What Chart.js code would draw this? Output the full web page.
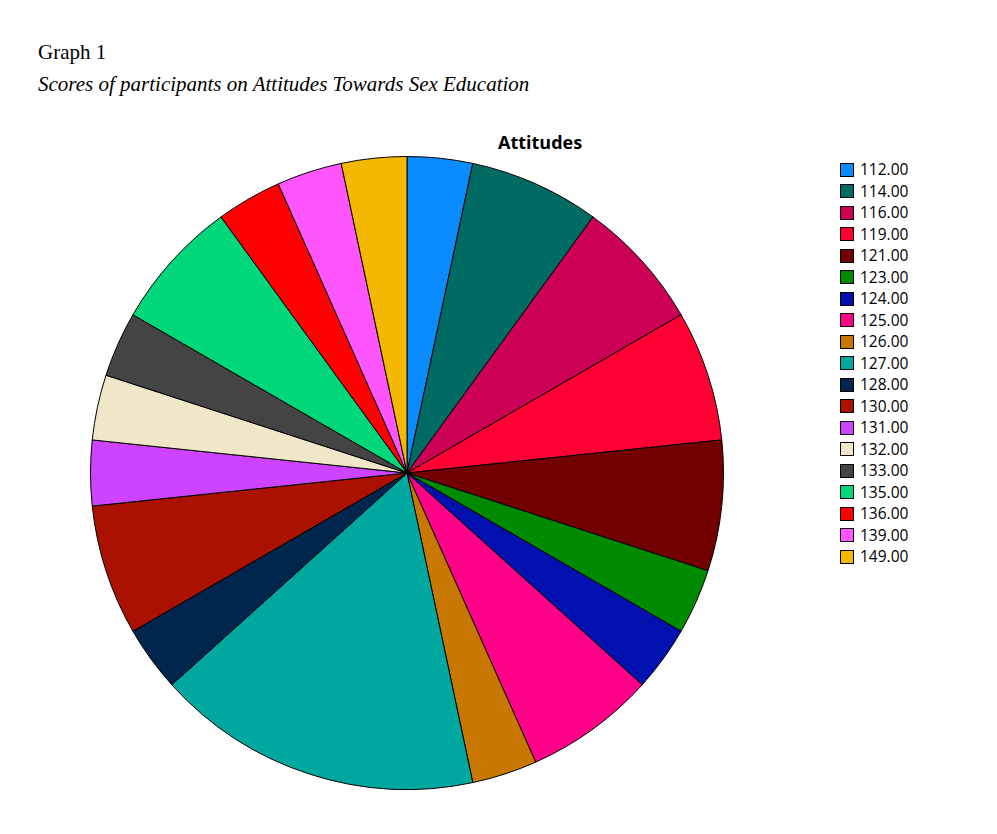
<!DOCTYPE html>
<html><head><meta charset="utf-8">
<script src="https://cdn.jsdelivr.net/npm/chart.js@4"></script>
<style>
body{margin:0;background:#fff;width:997px;height:834px;position:relative;overflow:hidden}
#h1{position:absolute;left:38px;top:40px;font:21px "Liberation Serif",serif}
#h2{position:absolute;left:38px;top:72px;font:italic 21px "Liberation Serif",serif}
#t{position:absolute;left:498px;top:130px;font:bold 18px "Open Sans",sans-serif}
#cw{position:absolute;left:90px;top:156px;width:634px;height:634px}
#lg{position:absolute;left:840px;top:159px;font:15.5px "Open Sans",sans-serif;line-height:21.5px}
.it{display:flex;align-items:center}
.bx{width:14px;height:14px;border:1px solid #000;margin-right:6px;box-sizing:border-box}
</style></head><body>
<div id="h1">Graph 1</div>
<div id="h2">Scores of participants on Attitudes Towards Sex Education</div>
<div id="t">Attitudes</div>
<div id="cw"><canvas id="c"></canvas></div>
<div id="lg"></div>
<script>
const labels=["112.00","114.00","116.00","119.00","121.00","123.00","124.00","125.00","126.00","127.00","128.00","130.00","131.00","132.00","133.00","135.00","136.00","139.00","149.00"];
const counts=[1,2,2,2,2,1,1,2,1,5,1,2,1,1,1,2,1,1,1];
const colors=["#0a8cff","#006b63","#cc0055","#ff0033","#720000","#008a00","#0011b0","#ff0088","#c87800","#00a8a0","#00264d","#aa1100","#cc44ff","#f0e6c8","#444444","#00d67a","#ff0000","#ff55ff","#f5b800"];
new Chart(document.getElementById('c'),{type:'pie',data:{labels,datasets:[{data:counts,backgroundColor:colors,borderColor:'#000',borderWidth:1}]},
options:{responsive:true,maintainAspectRatio:false,animation:false,plugins:{legend:{display:false},tooltip:{enabled:false}},layout:{padding:0}}});
const lg=document.getElementById('lg');
labels.forEach((l,i)=>{const d=document.createElement('div');d.className='it';d.innerHTML='<span class="bx" style="background:'+colors[i]+'"></span>'+l;lg.appendChild(d);});
</script></body></html>
